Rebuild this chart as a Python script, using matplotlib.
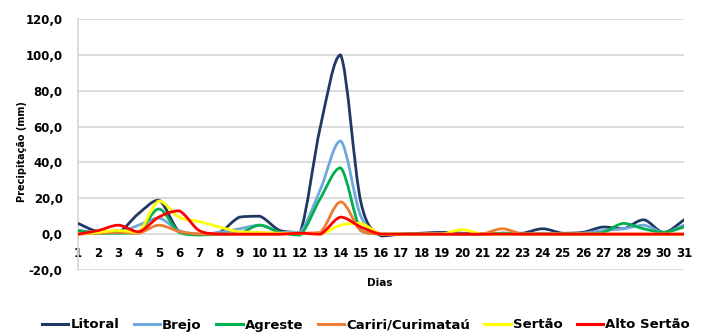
import numpy as np
import matplotlib
matplotlib.use("Agg")
import matplotlib.pyplot as plt
from matplotlib.path import Path
from matplotlib.patches import PathPatch
from matplotlib.lines import Line2D
from matplotlib.ticker import FuncFormatter

plt.rcParams['font.family'] = ['DejaVu Sans']
plt.rcParams['font.weight'] = 'bold'

dias = list(range(1, 32))

litoral = [6, 1.3, 1, 11.5, 19, 1.5, 0, 1, 9.5, 10, 2, 1, 60, 100, 18, -1,
           0, 0.5, 1, 0.5, 0, 0.5, 0.5, 3, 0.5, 1, 4, 3, 8, 1, 8]
brejo = [2, 1, 1, 5, 9, 2, 0, 1, 3, 5, 1, 1, 25, 52, 10, 0,
         0, 0, 0.5, 0, 0, 0.5, 0, 0.5, 0, 0.5, 2, 3, 5, 1, 5]
agreste = [2, 0.5, 0.5, 1, 14, 1, -0.5, 0, 0.5, 5, 1, -0.5, 20, 37, 2, 0,
           0, 0, 0, 0, 0, 0.5, 0, 0, 0, 0, 1, 6, 3, 1, 4]
cariri = [0, 0.5, 1, 0.5, 5, 1.5, 0, 0, 0, 0, 0, 0.5, 1, 18, 2, 0,
          0, 0, 0, 0, 0, 3, 0, 0, 0, 0, 0, 0, 0, 0, 0]
sertao = [0, 1, 2, 1, 18.5, 9.5, 7, 4, 1.3, 1, 0.5, 0.5, 0, 5, 6, 0,
          0, 0, 0, 2.5, 0, 0, 0, 0, 0, 0, 0, 0, 0, 0, 0]
alto_sertao = [0, 2, 5, 1.3, 9.5, 13, 2, 0, 0, 0, 0, 0.5, 0, 9.5, 4, 0,
               0, 0, 0, 0, 0, 0, 0, 0, 0, 0, 0, 0, 0, 0, 0]

series = [
    ('Litoral', litoral, '#203864'),
    ('Brejo', brejo, '#6FA8DC'),
    ('Agreste', agreste, '#00B050'),
    ('Cariri/Curimataú', cariri, '#ED7D31'),
    ('Sertão', sertao, '#FFFF00'),
    ('Alto Sertão', alto_sertao, '#FF0000'),
]


def smooth_path(x, y, k=6.0):
    # cubic Bezier through every point; handles kept inside each segment's y range
    pts = np.column_stack([x, y]).astype(float)
    verts = [pts[0]]
    codes = [Path.MOVETO]
    n = len(pts)
    for i in range(n - 1):
        p0 = pts[i - 1] if i > 0 else pts[i]
        p1 = pts[i]
        p2 = pts[i + 1]
        p3 = pts[i + 2] if i + 2 < n else pts[i + 1]
        c1 = p1 + (p2 - p0) / k
        c2 = p2 - (p3 - p1) / k
        lo, hi = min(p1[1], p2[1]), max(p1[1], p2[1])
        c1[1] = np.clip(c1[1], lo, hi)
        c2[1] = np.clip(c2[1], lo, hi)
        verts += [c1, c2, p2]
        codes += [Path.CURVE4] * 3
    return Path(verts, codes)


fig = plt.figure(figsize=(7.02, 3.35), dpi=100)
ax = fig.add_axes([78 / 702, 65 / 335, (684 - 78) / 702, (270 - 19) / 335])

for name, vals, color in series:
    patch = PathPatch(smooth_path(dias, vals), facecolor='none', edgecolor=color,
                      lw=2.0, capstyle='round', joinstyle='round', zorder=3)
    ax.add_patch(patch)

ax.set_xlim(1, 31)
ax.set_ylim(-20, 120)
ax.set_yticks(np.arange(-20, 121, 20))
ax.yaxis.set_major_formatter(FuncFormatter(lambda v, p: f'{v:.1f}'.replace('.', ',')))
ax.set_xticks(dias)
ax.grid(axis='y', color='#D9D9D9', lw=1.3)
ax.set_axisbelow(True)

for s in ['top', 'right']:
    ax.spines[s].set_visible(False)
ax.spines['left'].set_color('#D9D9D9')
ax.spines['left'].set_linewidth(1.3)
ax.spines['bottom'].set_position(('data', 0))
ax.spines['bottom'].set_visible(False)
ax.tick_params(axis='both', length=0, labelsize=8.5, colors='black')
ax.tick_params(axis='x', pad=9)
ax.tick_params(axis='y', pad=11)

fig.text(22 / 702, 1 - 152 / 335, 'Precipitação (mm)', rotation=90,
         ha='center', va='center', fontsize=7)
fig.text(380 / 702, 1 - 283 / 335, 'Dias', ha='center', va='center', fontsize=7.5)

handles = [Line2D([], [], color=c, lw=2.2) for _, _, c in series]
labels = [n for n, _, _ in series]
fig.legend(handles, labels, loc='center', bbox_to_anchor=(366 / 702, 1 - 325 / 335),
           ncol=6, frameon=False, fontsize=9.5, handlelength=2.0, handletextpad=0.15,
           columnspacing=1.1)

fig.savefig('out.png', dpi=100)
